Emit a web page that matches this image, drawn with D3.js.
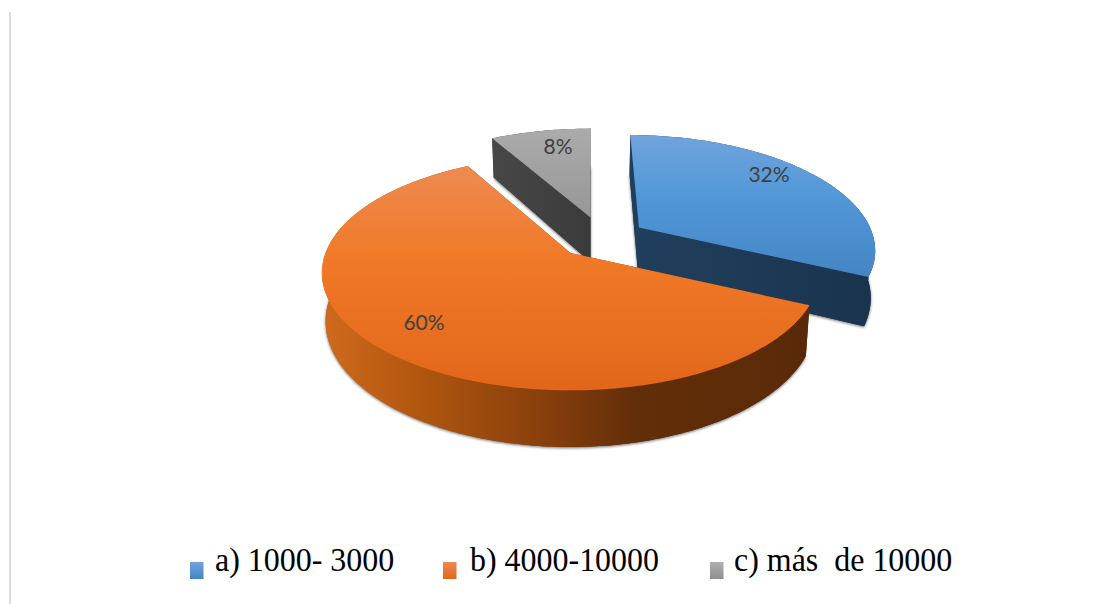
<!DOCTYPE html>
<html><head><meta charset="utf-8">
<script src="https://cdn.jsdelivr.net/npm/d3@7"></script>
<style>html,body{margin:0;padding:0;background:#fff;overflow:hidden}svg{display:block}</style>
</head><body>
<script>
const categories = ["a) 1000- 3000", "b) 4000-10000", "c) más  de 10000"];
const values = [32, 60, 8];
const percentLabels = ["32%", "60%", "8%"];

const W = 1119, H = 604;
const svg = d3.select("body").append("svg").attr("width", W).attr("height", H);
const defs = svg.append("defs");

// projection of the tilted pie
const cx = 570.5, cy = 253, A = 245, B = 114, K = 0.17, D = 47, SHRINK = 0.985;
// per-slice explosion (world u, world v, screen dx, screen dy, horizontal scale)
const explode = [[0.262, -0.166, 6, -7, 0.97], [0, 0, 0, 0, 1], [0, -0.3, 20, -3, 1]];
const labelPos = [[769, 175], [424, 323], [558, 147]];
const swatchX = [190, 443, 710];
const textX = [215, 470, 734];

const lin = (id, x1, y1, x2, y2, stops) => {
  const g = defs.append("linearGradient").attr("id", id).attr("gradientUnits", "userSpaceOnUse")
    .attr("x1", x1).attr("y1", y1).attr("x2", x2).attr("y2", y2);
  stops.forEach(s => g.append("stop").attr("offset", s[0]).attr("stop-color", s[1]));
};
lin("topB", 0, 135, 0, 280, [[0, "#70a4dc"], [0.45, "#5097d8"], [1, "#4485c3"]]);
lin("topO", 0, 165, 0, 392, [[0, "#ee8a52"], [0.4, "#f07a28"], [1, "#e2661a"]]);
lin("topG", 0, 128, 0, 220, [[0, "#ababab"], [1, "#969696"]]);
lin("sideB", 634, 0, 870, 0, [[0, "#203f5c"], [1, "#1a344f"]]);
lin("sideO", 325, 0, 800, 0, [[0, "#cf6a1c"], [0.2, "#b0560f"], [0.45, "#8a400c"], [0.65, "#632e09"], [1, "#5a2a08"]]);
lin("sideG", 492, 0, 590, 0, [[0, "#474747"], [1, "#3b3b3b"]]);
lin("swB", 0, 562, 0, 579, [[0, "#70a4dc"], [1, "#4485c3"]]);
lin("swO", 0, 562, 0, 579, [[0, "#ee8a52"], [1, "#e2661a"]]);
lin("swG", 0, 562, 0, 579, [[0, "#b0b0b0"], [1, "#8e8e8e"]]);
defs.append("filter").attr("id", "blur").attr("x", "-10%").attr("y", "-10%").attr("width", "120%").attr("height", "120%")
  .append("feGaussianBlur").attr("stdDeviation", 1.8);

const topFill = ["url(#topB)", "url(#topO)", "url(#topG)"];
const sideFill = ["url(#sideB)", "url(#sideO)", "url(#sideG)"];
const swFill = ["url(#swB)", "url(#swO)", "url(#swG)"];

const pie = d3.pie().sort(null).value(d => d)(values);
const line = d3.line().curve(d3.curveLinear);

function project(u, v, e, depth) {
  const uu = u + e[0], vv = v + e[1], w = 1 - K * vv;
  const x0 = A * e[0] / (1 - K * e[1]);
  let x = A * uu / w, y = B * vv / w;
  x = x0 + (x - x0) * e[4];
  if (depth) { x *= SHRINK; y += D / w; }
  return [cx + x + e[2], cy + y + e[3]];
}
function arcPts(a0, a1, e, depth) {
  const n = Math.max(2, Math.ceil((a1 - a0) * 60));
  return d3.range(n + 1).map(i => {
    const t = a0 + (a1 - a0) * i / n;
    return project(Math.sin(t), -Math.cos(t), e, depth);
  });
}
const closed = pts => line(pts) + "Z";

svg.append("rect").attr("x", 9).attr("y", 12).attr("width", 2).attr("height", H - 12).attr("fill", "#dcdcdc");

const order = [0, 2, 1];
order.forEach(i => {
  const p = pie[i], e = explode[i];
  const g = svg.append("g");
  const topArc = arcPts(p.startAngle, p.endAngle, e, false);
  const botArc = arcPts(p.startAngle, p.endAngle, e, true);
  const apexT = project(0, 0, e, false), apexB = project(0, 0, e, true);
  const body = [apexB].concat(botArc);
  // soft shadow around the extruded body
  g.append("path").attr("d", closed(body)).attr("fill", "#000").attr("opacity", 0.6)
    .attr("filter", "url(#blur)").attr("transform", "translate(0,1)");
  g.append("path").attr("d", closed(body)).attr("fill", sideFill[i]);
  // outer rim
  g.append("path").attr("d", closed(topArc.concat(botArc.slice().reverse()))).attr("fill", sideFill[i]);
  // cut faces
  [[topArc[0], botArc[0]], [topArc[topArc.length - 1], botArc[botArc.length - 1]]].forEach(c => {
    g.append("path").attr("d", closed([apexT, c[0], c[1], apexB])).attr("fill", sideFill[i]);
  });
  // top face
  g.append("path").attr("d", closed([apexT].concat(topArc))).attr("fill", topFill[i]);
});

svg.selectAll("text.pct").data(percentLabels).join("text").attr("class", "pct")
  .attr("x", (d, i) => labelPos[i][0]).attr("y", (d, i) => labelPos[i][1])
  .attr("dy", "0.35em").attr("text-anchor", "middle")
  .attr("font-family", "Lato, 'Open Sans', sans-serif").attr("font-size", 21).attr("fill", "#404040")
  .text(d => d);

const legend = svg.selectAll("g.leg").data(categories).join("g").attr("class", "leg");
legend.append("rect").attr("x", (d, i) => swatchX[i]).attr("y", 562).attr("width", 13.5).attr("height", 17)
  .attr("fill", (d, i) => swFill[i]);
legend.append("text").attr("transform", (d, i) => `translate(${textX[i]},571) scale(0.94,1)`)
  .attr("font-family", "'Liberation Serif', serif").attr("font-size", 34).attr("fill", "#000")
  .style("white-space", "pre")
  .text(d => d);
</script>
</body></html>
